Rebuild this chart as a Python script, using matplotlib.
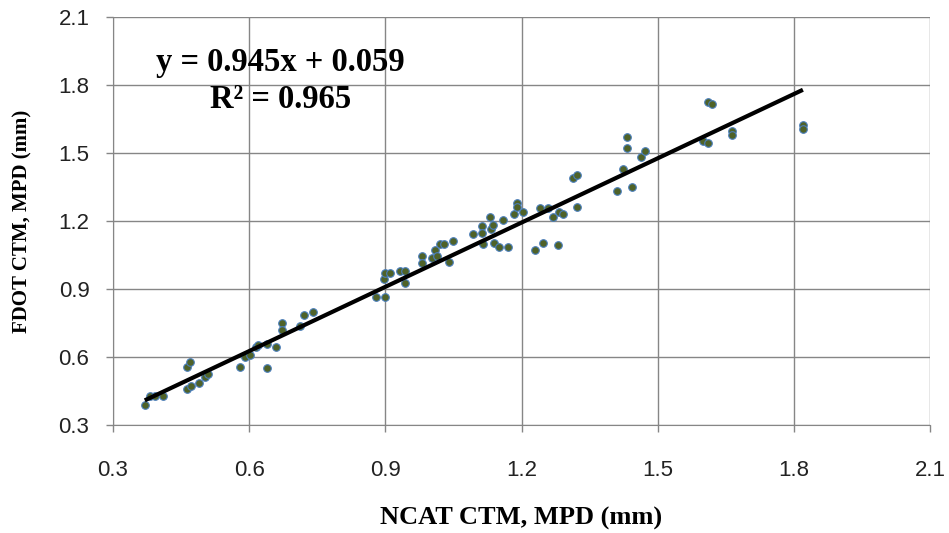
import matplotlib.pyplot as plt
import numpy as np

# NCAT CTM vs FDOT CTM, MPD (mm)
ncat = [0.370, 0.382, 0.393, 0.410, 0.463, 0.470, 0.463, 0.472, 0.489, 0.503,
        0.509, 0.580, 0.591, 0.602, 0.615, 0.619, 0.639, 0.639, 0.659, 0.672,
        0.672, 0.712, 0.721, 0.741, 0.879, 0.899, 0.897, 0.899, 0.910, 0.932,
        0.943, 0.943, 0.981, 0.981, 1.003, 1.009, 1.014, 1.020, 1.029, 1.040,
        1.049, 1.093, 1.113, 1.113, 1.115, 1.131, 1.133, 1.137, 1.139, 1.150,
        1.159, 1.170, 1.183, 1.190, 1.190, 1.203, 1.230, 1.247, 1.241, 1.258,
        1.269, 1.283, 1.291, 1.280, 1.313, 1.322, 1.322, 1.410, 1.443, 1.424,
        1.432, 1.432, 1.463, 1.472, 1.600, 1.611, 1.611, 1.620, 1.664, 1.664,
        1.820, 1.820]
fdot = [0.388, 0.428, 0.428, 0.428, 0.555, 0.578, 0.459, 0.472, 0.485, 0.511,
        0.525, 0.555, 0.600, 0.608, 0.644, 0.652, 0.657, 0.551, 0.644, 0.749,
        0.718, 0.736, 0.785, 0.798, 0.864, 0.864, 0.943, 0.970, 0.970, 0.978,
        0.978, 0.926, 1.044, 1.014, 1.036, 1.071, 1.044, 1.097, 1.097, 1.018,
        1.111, 1.141, 1.177, 1.146, 1.097, 1.216, 1.163, 1.181, 1.102, 1.084,
        1.203, 1.084, 1.229, 1.278, 1.260, 1.238, 1.071, 1.102, 1.256, 1.256,
        1.216, 1.238, 1.229, 1.093, 1.388, 1.401, 1.260, 1.331, 1.348, 1.428,
        1.569, 1.520, 1.481, 1.507, 1.551, 1.542, 1.723, 1.714, 1.595, 1.581,
        1.622, 1.608]

slope = 0.945
intercept = 0.059
r2 = 0.965
ticks = [0.3, 0.6, 0.9, 1.2, 1.5, 1.8, 2.1]

fig = plt.figure(figsize=(9.49, 5.33), dpi=100)
ax = fig.add_axes([113/949, 1 - 425/533, (930-113)/949, (425-17)/533])

ax.scatter(ncat, fdot, s=30, c='#4F6228', edgecolors='#4A7EBB',
           linewidths=0.8, zorder=3)

# linear trendline
xl = np.array([min(ncat), max(ncat)])
ax.plot(xl, slope*xl + intercept, color='black', lw=3, zorder=4,
        solid_capstyle='butt')

ax.set_xlim(0.3, 2.1)
ax.set_ylim(0.3, 2.1)
ax.set_xticks(ticks)
ax.set_yticks(ticks)
ax.set_xticklabels([f"{t:.1f}" for t in ticks])
ax.set_yticklabels([f"{t:.1f}" for t in ticks])
ax.grid(True, color='#868686', lw=1)
ax.set_axisbelow(True)
for s in ['top', 'right']:
    ax.spines[s].set_visible(False)
for s in ['left', 'bottom']:
    ax.spines[s].set_color('#868686')
ax.tick_params(length=5, color='#868686', width=1,
               labelsize=16, labelcolor='#222222')
ax.tick_params(axis='x', pad=20)
ax.tick_params(axis='y', pad=12)
for lab in ax.get_xticklabels() + ax.get_yticklabels():
    lab.set_family('Liberation Sans')

fig.text(521/949, 1 - 518/533, 'NCAT CTM, MPD (mm)', ha='center', va='center',
         family='Liberation Serif', weight='bold', fontsize=19)
fig.text(22/949, 1 - 221/533, 'FDOT CTM, MPD (mm)', ha='center', va='center',
         rotation=90, family='Liberation Serif', weight='bold', fontsize=15)

ax.text(280/949, 1 - 62/533, f'y = {slope}x + {intercept}',
        transform=fig.transFigure, ha='center', va='center',
        family='Liberation Serif', weight='bold', fontsize=23.5)
ax.text(281/949, 1 - 100/533, f'R² = {r2}',
        transform=fig.transFigure, ha='center', va='center',
        family='Liberation Serif', weight='bold', fontsize=23.5)

fig.savefig('out.png', dpi=100)
